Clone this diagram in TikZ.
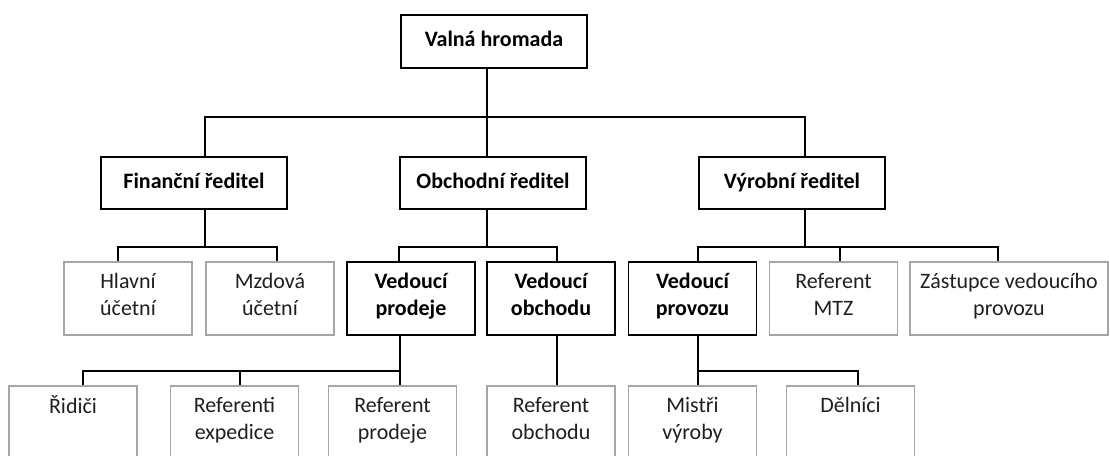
\documentclass[tikz,border=0pt]{standalone}
\usepackage{fontspec}
\setmainfont{Carlito}
\usetikzlibrary{positioning}
\usetikzlibrary{calc}
\tikzset{boss/.style={draw=black, line width=1.8pt, rectangle, inner sep=0pt, align=center,
    execute at begin node=\strut, execute at end node=\strut,
    font=\fontsize{22}{27}\selectfont\bfseries, text=black}}
\tikzset{staff/.style={draw=black!35, line width=1.8pt, rectangle, inner sep=0pt, align=center,
    minimum width=128, minimum height=73,
    execute at begin node=\strut, execute at end node=\strut,
    font=\fontsize{22}{27}\selectfont, text=black!88}}
\tikzset{link/.style={draw=black, line width=1.8pt}}

\begin{document}
\begin{tikzpicture}[x=1pt, y=-1pt]
\useasboundingbox (0,0) rectangle (1110,455);
\clip (0,0) rectangle (1110,455);

\node[boss, minimum width=186, minimum height=53] (vh) at (494, 41.5) {Valná hromada};

\node[boss, minimum width=186, minimum height=52] (fin) at (194, 183) {Finanční ředitel};
\node[boss, minimum width=186, minimum height=52] (obch) at (493, 183) {Obchodní ředitel};
\node[boss, minimum width=186, minimum height=52] (vyr) at (792, 183) {Výrobní ředitel};

\node[staff] (hl) at (128, 298.5) {Hlavní\\účetní};
\node[staff] (mz) at (270, 298.5) {Mzdová\\účetní};
\node[boss, minimum width=128, minimum height=73] (vp) at (411, 298.5) {Vedoucí\\prodeje};
\node[boss, minimum width=128, minimum height=73] (vo) at (551, 298.5) {Vedoucí\\obchodu};
\node[boss, minimum width=128, minimum height=73] (vpr) at (692.5, 298.5) {Vedoucí\\provozu};
\node[staff] (mtz) at (833.5, 298.5) {Referent\\MTZ};
\node[staff, minimum width=198] (zast) at (1009, 298.5) {Zástupce vedoucího\\provozu};

\node[staff] (rid) at (73, 422.5) {Řidiči\\};
\node[staff] (rexp) at (234.5, 422.5) {Referenti\\expedice};
\node[staff] (rprod) at (392.5, 422.5) {Referent\\prodeje};
\node[staff] (robch) at (551, 422.5) {Referent\\obchodu};
\node[staff] (mist) at (692.5, 422.5) {Mistři\\výroby};
\node[staff] (del) at (850.5, 422.5) {Dělníci\\};

% valna hromada
\draw[link] ([xshift=-7]vh.south) -- ++(0,48) coordinate (b0);
\draw[link] (b0) -| ([xshift=11]fin.north);
\draw[link] (b0) -| ([xshift=-6]obch.north);
\draw[link] (b0) -| ([xshift=13]vyr.north);

% reditele
\draw[link] ([xshift=11]fin.south) -- ++(0,37) coordinate (b1);
\draw[link] (b1) -| ([xshift=-10]hl.north);
\draw[link] (b1) -| ([xshift=7]mz.north);
\draw[link] ([xshift=-6]obch.south) -- ++(0,37) coordinate (b2);
\draw[link] (b2) -| ([xshift=-12]vp.north);
\draw[link] (b2) -| ([xshift=6]vo.north);
\draw[link] ([xshift=13]vyr.south) -- ++(0,37) coordinate (b3);
\draw[link] (b3) -| ([xshift=5.5]vpr.north);
\draw[link] (b3) -| ([xshift=6.5]mtz.north);
\draw[link] (b3) -| ([xshift=-11]zast.north);

% vedouci
\draw[link] ([xshift=-11]vp.south) -- ++(0,35) coordinate (b4);
\draw[link] (b4) -| ([xshift=10]rid.north);
\draw[link] (b4) -| ([xshift=5.5]rexp.north);
\draw[link] (b4) -| ([xshift=7.5]rprod.north);
\draw[link] ([xshift=6]vo.south) -- ([xshift=6]robch.north);
\draw[link] ([xshift=5.5]vpr.south) -- ++(0,35) coordinate (b5);
\draw[link] (b5) -| ([xshift=5.5]mist.north);
\draw[link] (b5) -| ([xshift=7.5]del.north);
\end{tikzpicture}
\end{document}
